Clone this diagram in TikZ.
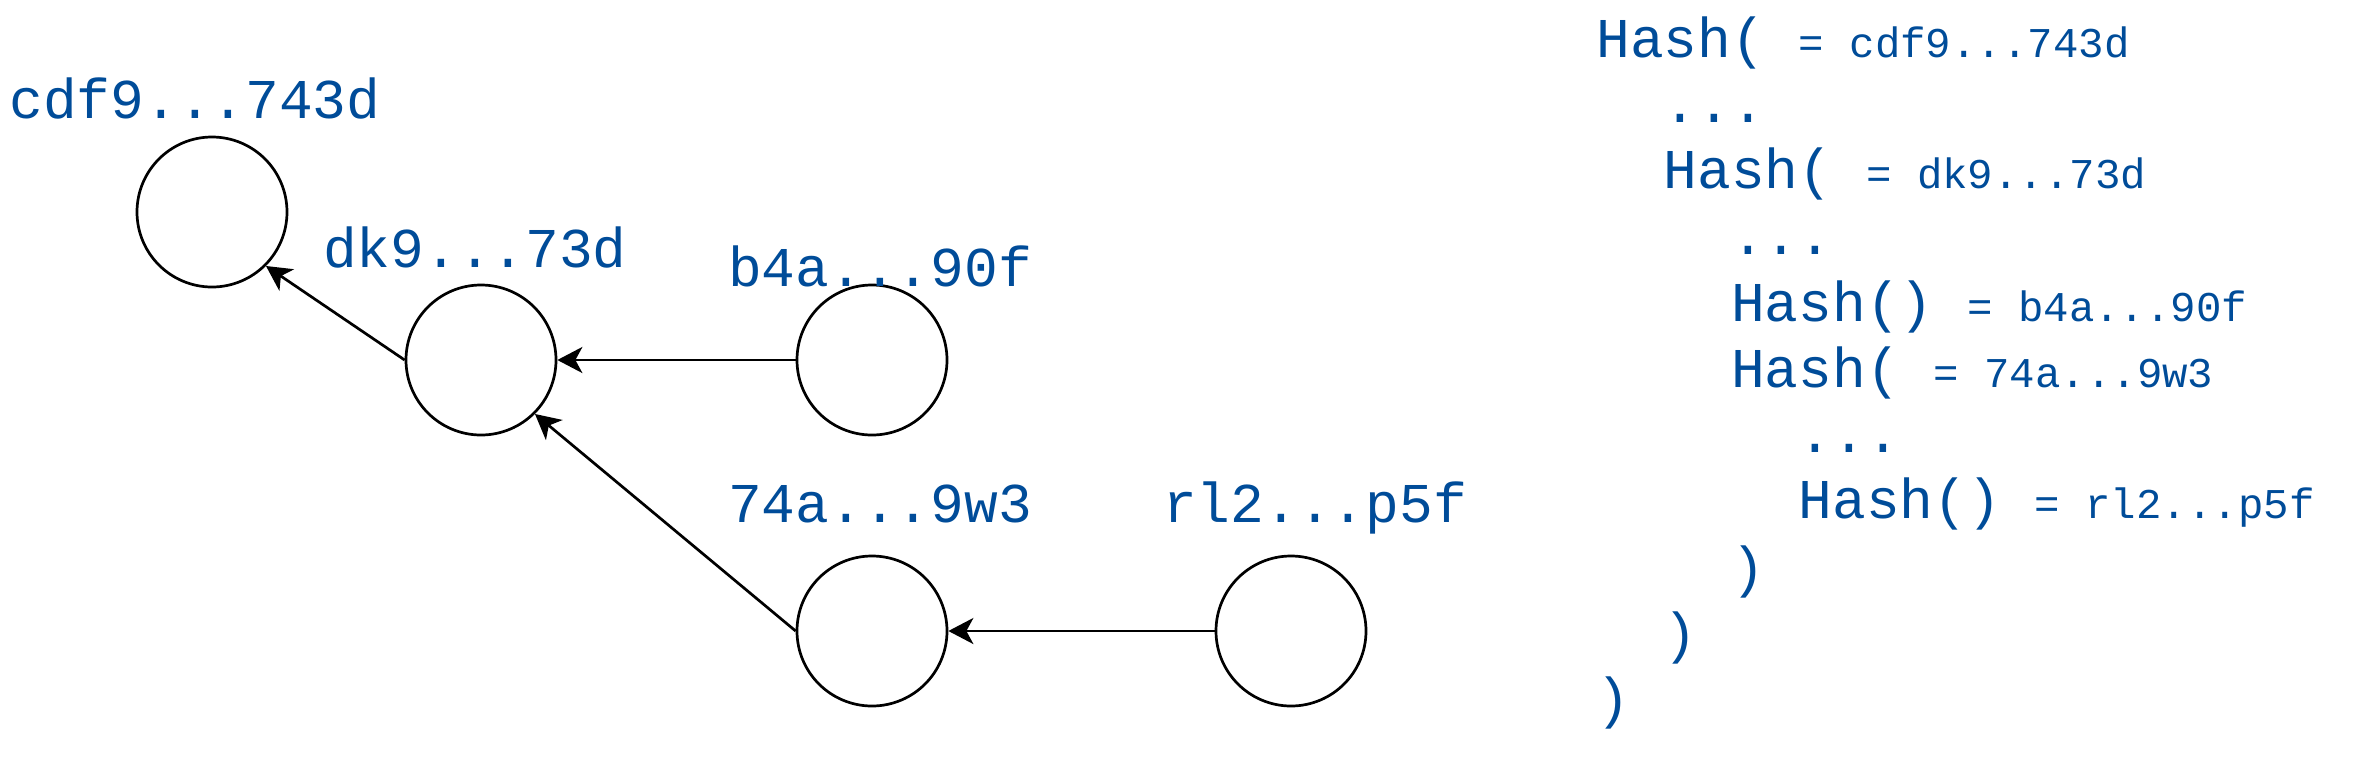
\documentclass[tikz,border=0pt]{standalone}
\usepackage{fontspec}
\newfontfamily\hashmono{Liberation Mono}
\usetikzlibrary{arrows.meta}
\definecolor{hashblue}{RGB}{0,76,153}
\newcommand\bigmono{\hashmono\fontsize{28.1pt}{33pt}\selectfont}
\newcommand\smallmono{\hashmono\fontsize{21.2pt}{24pt}\selectfont}
\begin{document}
\begin{tikzpicture}[x=0.5pt,y=-0.5pt,
  hashnode/.style={circle, draw, line width=1.35pt, minimum size=75pt, inner sep=0pt},
  hashlabel/.style={text=hashblue, font=\bigmono, inner sep=0pt, anchor=base},
  codeline/.style={text=hashblue, font=\bigmono, inner sep=0pt, anchor=base west},
  conn/.style={draw, line width=1.35pt, -{Stealth[length=12.5pt,width=13pt,inset=3.5pt]}}]
\useasboundingbox (0,0) rectangle (2373,783);
% circles
\node[hashnode] (c1) at (212,212) {};
\node[hashnode] (c2) at (481,360) {};
\node[hashnode] (c3) at (872,360) {};
\node[hashnode] (c4) at (872,631) {};
\node[hashnode] (c5) at (1291,631) {};
% labels
\node[hashlabel] (l1) at (195,118) {cdf9...743d};
\node[hashlabel] (l2) at (475,267) {dk9...73d};
\node[hashlabel] (l3) at (880,286) {b4a...90f};
\node[hashlabel] (l4) at (880,522) {74a...9w3};
\node[hashlabel] (l5) at (1315,522) {rl2...p5f};
% connectors
\draw[conn] (c2.west) -- (c1.-45);
\draw[conn] (c3.west) -- (c2.east);
\draw[conn] (c4.west) -- (c2.-45);
\draw[conn] (c5.west) -- (c4.east);
% nested hash text
\node[codeline] (h1) at (1596,57) {Hash(\hspace{0.6em}{\smallmono=\hspace{0.6em}cdf9...743d}};
\node[codeline] (h2) at (1663.4,122) {...};
\node[codeline] (h3) at (1663.4,188) {Hash(\hspace{0.6em}{\smallmono=\hspace{0.6em}dk9...73d}};
\node[codeline] (h4) at (1730.8,254) {...};
\node[codeline] (h5) at (1730.8,321) {Hash()\hspace{0.6em}{\smallmono=\hspace{0.6em}b4a...90f}};
\node[codeline] (h6) at (1730.8,387) {Hash(\hspace{0.6em}{\smallmono=\hspace{0.6em}74a...9w3}};
\node[codeline] (h7) at (1798.2,452) {...};
\node[codeline] (h8) at (1798.2,518) {Hash()\hspace{0.6em}{\smallmono=\hspace{0.6em}rl2...p5f}};
\node[codeline] (h9) at (1730.8,586) {)};
\node[codeline] (h10) at (1663.4,652) {)};
\node[codeline] (h11) at (1596,717) {)};
\end{tikzpicture}
\end{document}
